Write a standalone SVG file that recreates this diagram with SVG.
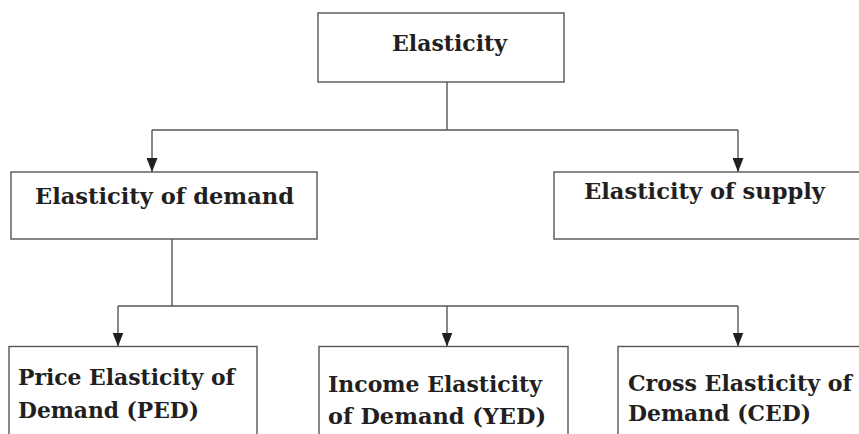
<svg xmlns="http://www.w3.org/2000/svg" width="859" height="434" viewBox="0 0 859 434">
  <defs>
    <marker id="arrow" markerUnits="userSpaceOnUse" markerWidth="14" markerHeight="11" refX="14" refY="5.5" orient="auto">
      <path d="M0,0 L14,5.5 L0,11 Z" fill="#231f20"/>
    </marker>
    <style>
      .box { fill: #ffffff; stroke: #555555; stroke-width: 1.4; }
      .line { fill: none; stroke: #555555; stroke-width: 1.4; }
      .arr { fill: none; stroke: #555555; stroke-width: 1.4; marker-end: url(#arrow); }
      .label { font-family: "DejaVu Serif", "Liberation Serif", serif; font-weight: bold; font-size: 23px; fill: #231f20; }
    </style>
  </defs>
  <rect width="859" height="434" fill="#ffffff"/>

  <!-- connectors -->
  <g id="connectors">
    <path class="line" d="M447,82 V130 M152,130 H738"/>
    <path class="arr" d="M152,130 V172"/>
    <path class="arr" d="M738,130 V172"/>
    <path class="line" d="M172,239 V306 M118,306 H738"/>
    <path class="arr" d="M118,306 V346.5"/>
    <path class="arr" d="M447,306 V346.5"/>
    <path class="arr" d="M738,306 V346.5"/>
  </g>

  <!-- root -->
  <g id="elasticity">
    <rect class="box" x="318" y="13" width="246" height="69"/>
    <text class="label" x="392" y="51" textLength="115" lengthAdjust="spacingAndGlyphs">Elasticity</text>
  </g>

  <!-- second level -->
  <g id="elasticity-demand">
    <rect class="box" x="11" y="172" width="306" height="67"/>
    <text class="label" x="35" y="204" textLength="259" lengthAdjust="spacingAndGlyphs">Elasticity of demand</text>
  </g>
  <g id="elasticity-supply">
    <rect class="box" x="554" y="172" width="320" height="67"/>
    <text class="label" x="584" y="199" textLength="241" lengthAdjust="spacingAndGlyphs">Elasticity of supply</text>
  </g>

  <!-- third level -->
  <g id="ped">
    <rect class="box" x="9" y="346.5" width="248" height="100"/>
    <text class="label" x="18" y="385" textLength="217" lengthAdjust="spacingAndGlyphs">Price Elasticity of</text>
    <text class="label" x="18" y="418" textLength="181" lengthAdjust="spacingAndGlyphs">Demand (PED)</text>
  </g>
  <g id="yed">
    <rect class="box" x="319" y="346.5" width="249" height="100"/>
    <text class="label" x="328" y="392" textLength="214" lengthAdjust="spacingAndGlyphs">Income Elasticity</text>
    <text class="label" x="328" y="424" textLength="218" lengthAdjust="spacingAndGlyphs">of Demand (YED)</text>
  </g>
  <g id="ced">
    <rect class="box" x="618" y="346.5" width="260" height="100"/>
    <text class="label" x="628" y="391" textLength="224" lengthAdjust="spacingAndGlyphs">Cross Elasticity of</text>
    <text class="label" x="628" y="421" textLength="183" lengthAdjust="spacingAndGlyphs">Demand (CED)</text>
  </g>
</svg>
